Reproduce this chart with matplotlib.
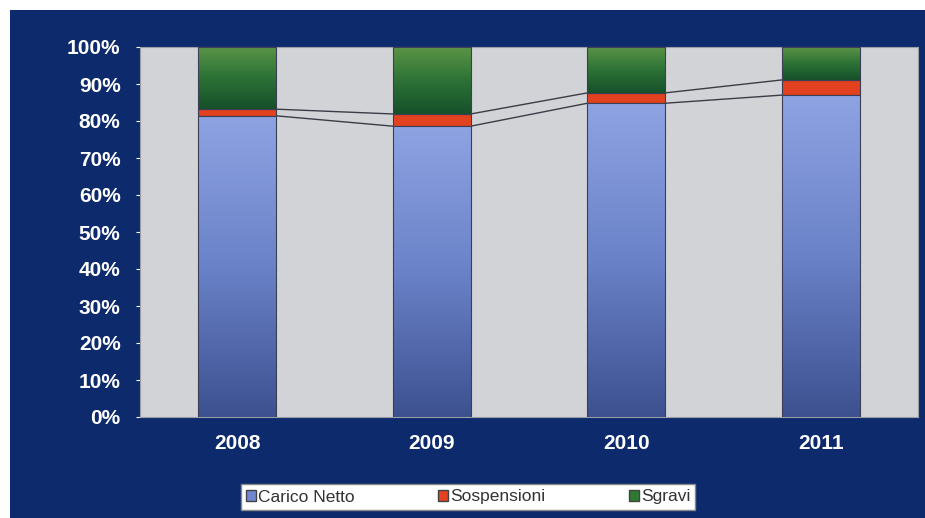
import numpy as np
import matplotlib.pyplot as plt
from matplotlib.patches import Rectangle, Patch
from matplotlib.colors import LinearSegmentedColormap

# dati (quote percentuali)
anni = ['2008', '2009', '2010', '2011']
carico_netto = [81.4, 78.6, 84.8, 87.0]
sospensioni = [1.8, 3.3, 2.8, 4.1]
sgravi = [100 - c - s for c, s in zip(carico_netto, sospensioni)]

plt.rcParams['font.family'] = ['Liberation Sans', 'DejaVu Sans']

fig = plt.figure(figsize=(9.25, 5.18), dpi=100, facecolor='white')
# cornice blu
fig.patches.append(Rectangle((10 / 925, 0), 1, 1 - 10 / 518, transform=fig.transFigure,
                             facecolor='#0d2a6c', edgecolor='none', zorder=-10))

ax = fig.add_axes([140 / 925, 1 - 417 / 518, 778 / 925, 370 / 518])
ax.set_facecolor('#d2d3d7')

x = np.arange(len(anni))
w = 0.4
bottom2 = np.array(carico_netto) + np.array(sospensioni)

b1 = ax.bar(x, carico_netto, w, color='#7f95d6', edgecolor='#3b3f55', linewidth=0.8, zorder=2)
b2 = ax.bar(x, sospensioni, w, bottom=carico_netto, color='#e2421f', edgecolor='#3b3f55', linewidth=0.8, zorder=2)
b3 = ax.bar(x, sgravi, w, bottom=bottom2, color='#2f7a33', edgecolor='#3b3f55', linewidth=0.8, zorder=2)

# sfumature
blu = LinearSegmentedColormap.from_list('blu', ['#3d5190', '#6a82c8', '#8ea3e2'])
verde = LinearSegmentedColormap.from_list('verde', ['#16502a', '#2c7236', '#5b9446'])
grad = np.linspace(0, 1, 256).reshape(-1, 1)
for bars, cmap in [(b1, blu), (b3, verde)]:
    for p in bars:
        x0, y0 = p.get_x(), p.get_y()
        im = ax.imshow(grad, extent=[x0, x0 + p.get_width(), y0, y0 + p.get_height()],
                       origin='lower', cmap=cmap, aspect='auto', zorder=2.5)
        im.set_clip_path(p)
        p.set_zorder(3)
        p.set_facecolor('none')

# linee di serie
for i in range(len(anni) - 1):
    for serie in [carico_netto, bottom2]:
        ax.plot([x[i] + w / 2, x[i + 1] - w / 2], [serie[i], serie[i + 1]],
                color='#3c3c46', lw=1.0, zorder=1.5)

ax.set_xlim(-0.5, 3.5)
ax.set_ylim(0, 100)
ax.set_yticks(range(0, 101, 10))
ax.set_yticklabels([f'{v}%' for v in range(0, 101, 10)])
ax.set_xticks(x)
ax.set_xticklabels(anni)
ax.tick_params(axis='both', colors='white', labelsize=15)
ax.tick_params(axis='y', length=3, pad=11)
ax.tick_params(axis='x', length=0, pad=12)
for lab in ax.get_xticklabels() + ax.get_yticklabels():
    lab.set_fontweight('bold')
for s in ax.spines.values():
    s.set_color('#9a9ca6')
    s.set_linewidth(0.8)

handles = [Patch(facecolor='#7088d0', edgecolor='#444'),
           Patch(facecolor='#e2421f', edgecolor='#444'),
           Patch(facecolor='#2f7a33', edgecolor='#444')]
leg = fig.legend(handles, ['Carico Netto', 'Sospensioni', 'Sgravi'], loc='center',
                 bbox_to_anchor=(468 / 925, 1 - 497 / 518), ncol=3, frameon=True,
                 fancybox=False, edgecolor='#888', fontsize=12.5, handlelength=0.6,
                 handleheight=0.6, handletextpad=0.1, columnspacing=4.8,
                 borderpad=0.3, borderaxespad=0)
leg.get_frame().set_facecolor('white')
leg.get_frame().set_alpha(1)
for t in leg.get_texts():
    t.set_color('#333333')

fig.savefig('out.png', dpi=100, facecolor=fig.get_facecolor())
